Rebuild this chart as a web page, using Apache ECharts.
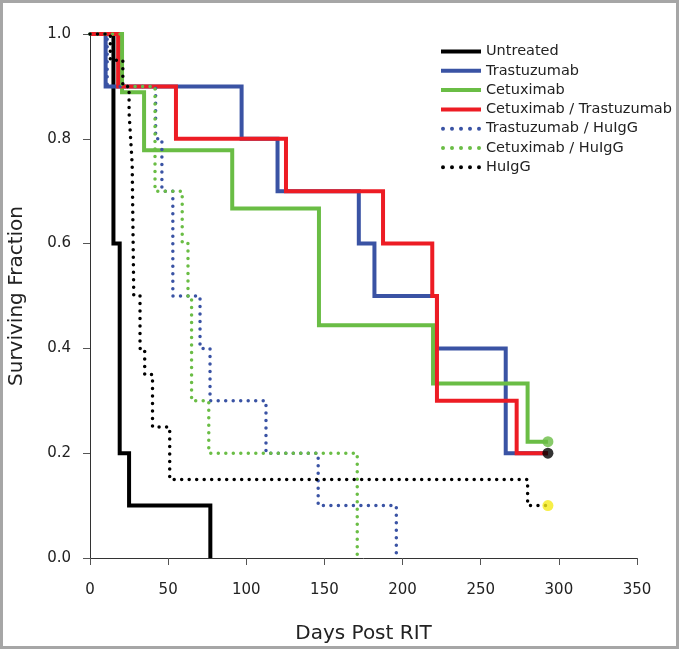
<!DOCTYPE html>
<html>
<head>
<meta charset="utf-8">
<script src="https://cdn.jsdelivr.net/npm/echarts@6/dist/echarts.min.js"></script>
<style>
  html, body { margin: 0; padding: 0; background: #fff; }
  #chart { width: 679px; height: 649px; }
</style>
</head>
<body>
<div id="chart"></div>
<script>
// Kaplan-Meier steps: [day of change, surviving fraction after the change]
const untreated = [[0, 1], [15, 0.6], [19, 0.2], [25, 0.1], [77, 0]];
const trastuzumab = [[0, 1], [10, 0.9], [97, 0.8], [120, 0.7], [172, 0.6], [182, 0.5], [222, 0.4], [266, 0.2], [293, 0.2]];
const cetuximab = [[0, 1], [20.5, 0.889], [34.6, 0.778], [91, 0.667], [146.5, 0.444], [219.5, 0.333], [280, 0.222], [293, 0.222]];
const cetTras = [[0, 1], [18, 0.9], [55, 0.8], [125.4, 0.7], [187.5, 0.6], [219, 0.5], [222, 0.3], [273, 0.2], [293, 0.2]];
const trasIgg = [[0, 1], [11, 0.9], [42, 0.8], [46, 0.7], [53, 0.5], [70.4, 0.4], [76.8, 0.3], [112.6, 0.2], [146, 0.1], [196, 0]];
const cetIgg = [[0, 1], [20.5, 0.9], [41.6, 0.7], [59, 0.6], [62.7, 0.5], [65, 0.3], [76, 0.2], [171, 0]];
const huigg = [[0, 1], [13, 0.95], [21, 0.9], [25, 0.85], [26, 0.8], [27, 0.75], [28, 0.5], [32, 0.4], [35, 0.35], [40, 0.25], [51, 0.15], [280, 0.1], [293, 0.1]];
// end-of-study markers
const endPoints = [[293, 0.222, "#6abd45"], [293, 0.2, "#000000"], [293, 0.1, "#f5eb1a"]];

const xTicks = [0, 350, 50];
const yTicks = [0, 1, 0.2];

const FONT = "'DejaVu Sans', sans-serif";
// legend icons: a bar for solid lines, a row of dots for dotted lines
const solidIcon = "path://M0,0h40v4h-40z";
const dotIcon =
  "path://M0,2a2,2 0 1,0 4,0a2,2 0 1,0 -4,0z" +
  "M9,2a2,2 0 1,0 4,0a2,2 0 1,0 -4,0z" +
  "M18,2a2,2 0 1,0 4,0a2,2 0 1,0 -4,0z" +
  "M27,2a2,2 0 1,0 4,0a2,2 0 1,0 -4,0z" +
  "M36,2a2,2 0 1,0 4,0a2,2 0 1,0 -4,0z";

const chart = echarts.init(document.getElementById("chart"));

function solid(name, data, color) {
  return {
    name: name,
    type: "line",
    step: "end",
    data: data,
    symbol: "none",
    color: color,
    lineStyle: { width: 4, color: color, join: "miter" },
    z: 2,
  };
}
function dotted(name, data, color) {
  return {
    name: name,
    type: "line",
    step: "end",
    data: data,
    symbol: "none",
    color: color,
    lineStyle: { width: 3.5, color: color, type: [0, 7.5], cap: "round" },
    z: 3,
  };
}

const options = {
  animation: false,
  textStyle: { fontFamily: FONT },
  graphic: [
    {
      type: "rect",
      shape: { x: 1.5, y: 1.5, width: 676, height: 646 },
      style: { fill: "none", stroke: "#a6a6a6", lineWidth: 3 },
      silent: true,
    },
  ],
  grid: { left: 90, right: 42, top: 34, bottom: 91, outerBoundsMode: "none" },
  legend: {
    left: 436,
    top: 39,
    orient: "vertical",
    itemWidth: 40,
    itemHeight: 4,
    itemGap: 4.3,
    textStyle: { fontSize: 14.5, lineHeight: 15, color: "#222", fontFamily: FONT },
    data: [
      { name: "Untreated", icon: solidIcon },
      { name: "Trastuzumab", icon: solidIcon },
      { name: "Cetuximab", icon: solidIcon },
      { name: "Cetuximab / Trastuzumab", icon: solidIcon },
      { name: "Trastuzumab / HuIgG", icon: dotIcon },
      { name: "Cetuximab / HuIgG", icon: dotIcon },
      { name: "HuIgG", icon: dotIcon },
    ],
  },
  xAxis: {
    type: "value",
    min: xTicks[0],
    max: xTicks[1],
    interval: xTicks[2],
    name: "Days Post RIT",
    nameLocation: "middle",
    nameGap: 66,
    nameTextStyle: { fontSize: 20, color: "#222" },
    axisLine: { show: true, lineStyle: { color: "#333", width: 1 } },
    axisTick: { show: true, length: 7, lineStyle: { color: "#555" } },
    axisLabel: { fontSize: 15, color: "#222", margin: 25 },
    splitLine: { show: false },
  },
  yAxis: {
    type: "value",
    min: yTicks[0],
    max: yTicks[1],
    interval: yTicks[2],
    name: "Surviving Fraction",
    nameLocation: "middle",
    nameGap: 63,
    nameTextStyle: { fontSize: 20, color: "#222" },
    axisLine: { show: true, lineStyle: { color: "#333", width: 1 } },
    axisTick: { show: true, length: 7, lineStyle: { color: "#555" } },
    axisLabel: { fontSize: 15, color: "#222", margin: 19, formatter: (v) => v.toFixed(1) },
    splitLine: { show: false },
  },
  series: [
    solid("Untreated", untreated, "#000000"),
    solid("Trastuzumab", trastuzumab, "#3a53a4"),
    solid("Cetuximab", cetuximab, "#6abd45"),
    solid("Cetuximab / Trastuzumab", cetTras, "#ed1c24"),
    dotted("Trastuzumab / HuIgG", trasIgg, "#3a53a4"),
    dotted("Cetuximab / HuIgG", cetIgg, "#6abd45"),
    dotted("HuIgG", huigg, "#000000"),
    {
      type: "scatter",
      symbolSize: 11,
      z: 5,
      data: endPoints.map((p) => ({ value: [p[0], p[1]], itemStyle: { color: p[2] } })),
    },
  ],
};
chart.setOption(options);
</script>
</body>
</html>
